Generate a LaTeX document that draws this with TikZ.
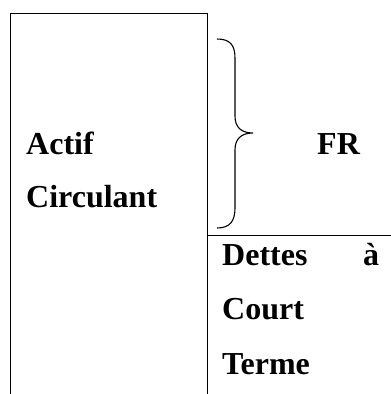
\documentclass[tikz,border=0pt]{standalone}
\usepackage{fontspec}
\setmainfont{Liberation Serif}
\begin{document}
\begin{tikzpicture}[x=1pt,y=-1pt,
  rule/.style={line width=0.9pt,black},
  lbl/.style={anchor=base west,inner sep=0pt,font=\fontsize{32}{32}\selectfont\bfseries}]
\useasboundingbox (0,0) rectangle (391,394);
% balance-sheet frame
\draw[rule] (10,394) -- (10,13) -- (207,13) -- (207,394);
\draw[rule] (207,235) -- (391,235);
% curly brace around FR
\draw[line width=1.1pt] (217,39) .. controls (230,39) and (235,45) .. (235,58)
  -- (235,116) .. controls (235,127) and (241,133) .. (253,133)
  .. controls (241,133) and (235,139) .. (235,150)
  -- (235,208) .. controls (235,221) and (230,228) .. (217,228);
% labels
\node[lbl] (actif) at (26,154) {Actif};
\node[lbl] (circ) at (26,207) {Circulant};
\node[lbl] (fr) at (317,154) {FR};
\node[lbl] (dettes) at (222,265) {Dettes};
\node[lbl] (a) at (363,265) {à};
\node[lbl] (court) at (222,319) {Court};
\node[lbl] (terme) at (222,374) {Terme};
\end{tikzpicture}
\end{document}
